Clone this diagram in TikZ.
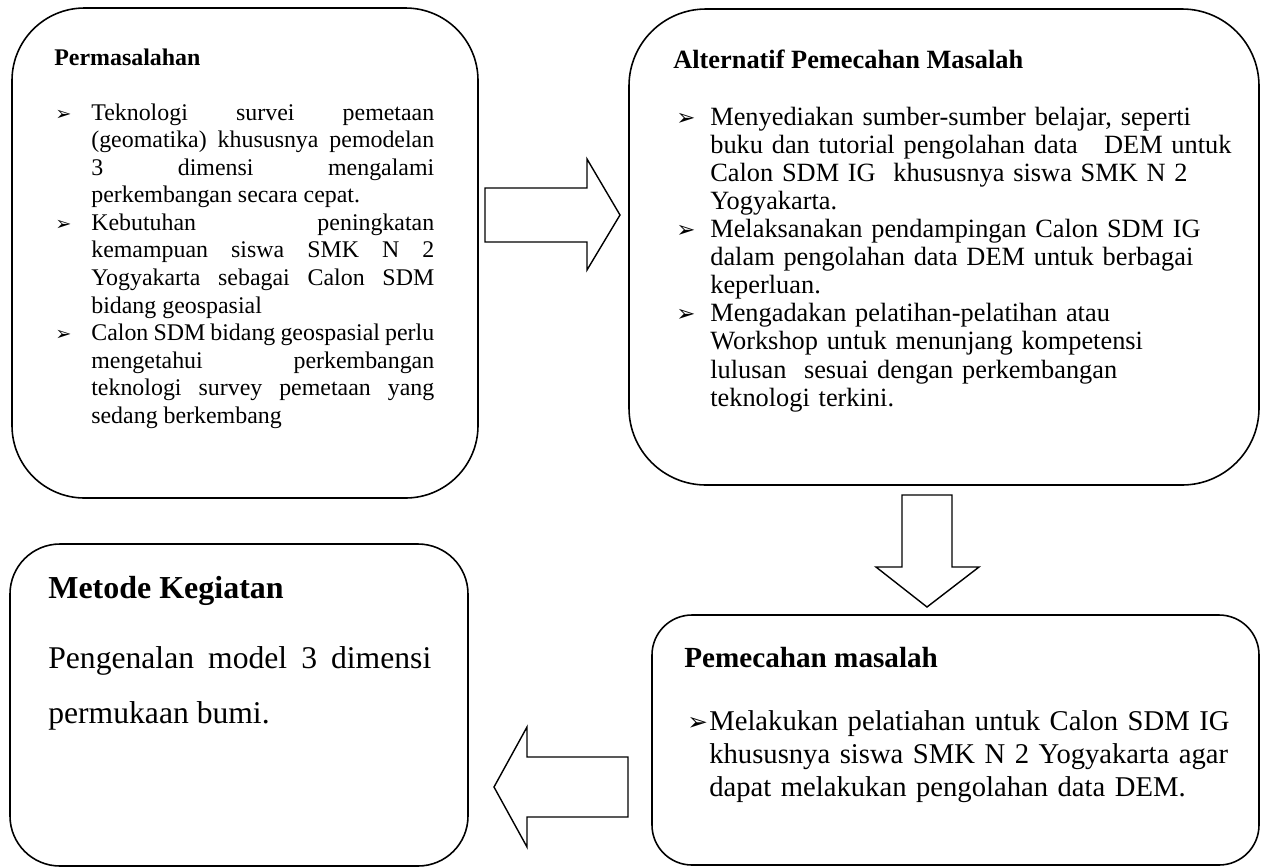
\documentclass[tikz,border=0pt]{standalone}
\usepackage{fontspec}
\setmainfont{Liberation Serif}
\newfontfamily\arrowfont{DejaVu Sans}
\usepackage{tikz}
\usetikzlibrary{positioning}

\newcommand{\bul}[1]{{\arrowfont\fontsize{#1}{#1}\selectfont ➢}}
\newcommand{\bitem}[3]{\noindent\hangindent=#1\hangafter=1\makebox[#1][l]{\bul{#2}}#3\par}

\tikzset{
  roundbox/.style={line width=0.9pt,rounded corners=#1},
  blockarrow/.style={line width=0.8pt,line join=miter},
  boxtitle/.style={anchor=base west,inner sep=0pt},
  boxtext/.style={anchor=base west,inner sep=0pt}
}
\hbadness=10000

\begin{document}
\begin{tikzpicture}[x=0.02cm,y=-0.02cm]
\useasboundingbox (0,0) rectangle (1262,867);

\draw[roundbox=1.45cm] (12,8) rectangle (478,498);
\draw[roundbox=1.54cm] (629,9) rectangle (1259,485);
\draw[roundbox=1.0cm] (10,544) rectangle (468,866);
\draw[roundbox=0.8cm] (652,615) rectangle (1259,865);

\draw[blockarrow] (485,188)--(587,188)--(587,159)--(620,215)--(587,270)--(587,242)--(485,242)--cycle;
\draw[blockarrow] (902,495)--(952,495)--(952,567)--(979,567)--(927,607)--(876,567)--(902,567)--cycle;
\draw[blockarrow] (628,757)--(527,757)--(527,727)--(494,787)--(527,847)--(527,817)--(628,817)--cycle;

\node[boxtitle,font=\fontsize{13.6}{15.7}\selectfont\bfseries] (masalah) at (54,65) {Permasalahan};
\node[boxtext,text width=7.58cm,align=justify,font=\fontsize{13.6}{15.7}\selectfont] (masalahlist) at (55,120) {%
\bitem{0.72cm}{11}{Teknologi survei pemetaan\linebreak (geomatika) khususnya pemodelan\linebreak 3 dimensi mengalami\linebreak perkembangan secara cepat.}
\bitem{0.72cm}{11}{Kebutuhan peningkatan\linebreak kemampuan siswa SMK N 2\linebreak Yogyakarta sebagai Calon SDM\linebreak bidang geospasial}
\bitem{0.72cm}{11}{Calon SDM bidang geospasial perlu\linebreak mengetahui perkembangan\linebreak teknologi survey pemetaan yang\linebreak sedang berkembang}};

\node[boxtitle,font=\fontsize{15}{16}\selectfont\bfseries] (alternatif) at (673,68) {Alternatif Pemecahan Masalah};
\node[boxtext,text width=11.18cm,align=left,font=\fontsize{15}{16}\selectfont] (alternatiflist) at (676,125) {%
\bitem{0.68cm}{13}{Menyediakan sumber-sumber belajar, seperti\newline buku dan tutorial pengolahan data\ \ \ DEM untuk\newline Calon SDM IG\ \ khususnya siswa SMK N 2\newline Yogyakarta.}
\bitem{0.68cm}{13}{Melaksanakan pendampingan Calon SDM IG\newline dalam pengolahan data DEM untuk berbagai\newline keperluan.}
\bitem{0.68cm}{13}{Mengadakan pelatihan-pelatihan atau\newline Workshop untuk menunjang kompetensi\newline lulusan\ \ sesuai dengan perkembangan\newline teknologi terkini.}};

\node[boxtitle,font=\fontsize{16.6}{18.8}\selectfont\bfseries] (pemecahan) at (684,667) {Pemecahan masalah};
\node[boxtext,text width=11.2cm,align=left,font=\fontsize{16.3}{18.8}\selectfont] (pemecahanlist) at (687,730) {%
\bitem{0.44cm}{14}{Melakukan pelatiahan untuk Calon SDM IG\newline khususnya siswa SMK N 2 Yogyakarta agar\newline dapat melakukan pengolahan data DEM.}};

\node[boxtitle,font=\fontsize{18.2}{20}\selectfont\bfseries] (metode) at (48,598) {Metode Kegiatan};
\node[boxtext,text width=7.66cm,align=justify,font=\fontsize{18}{31.3}\selectfont] (metodetext) at (48,668) {%
Pengenalan model 3 dimensi\linebreak permukaan bumi.};
\end{tikzpicture}
\end{document}
